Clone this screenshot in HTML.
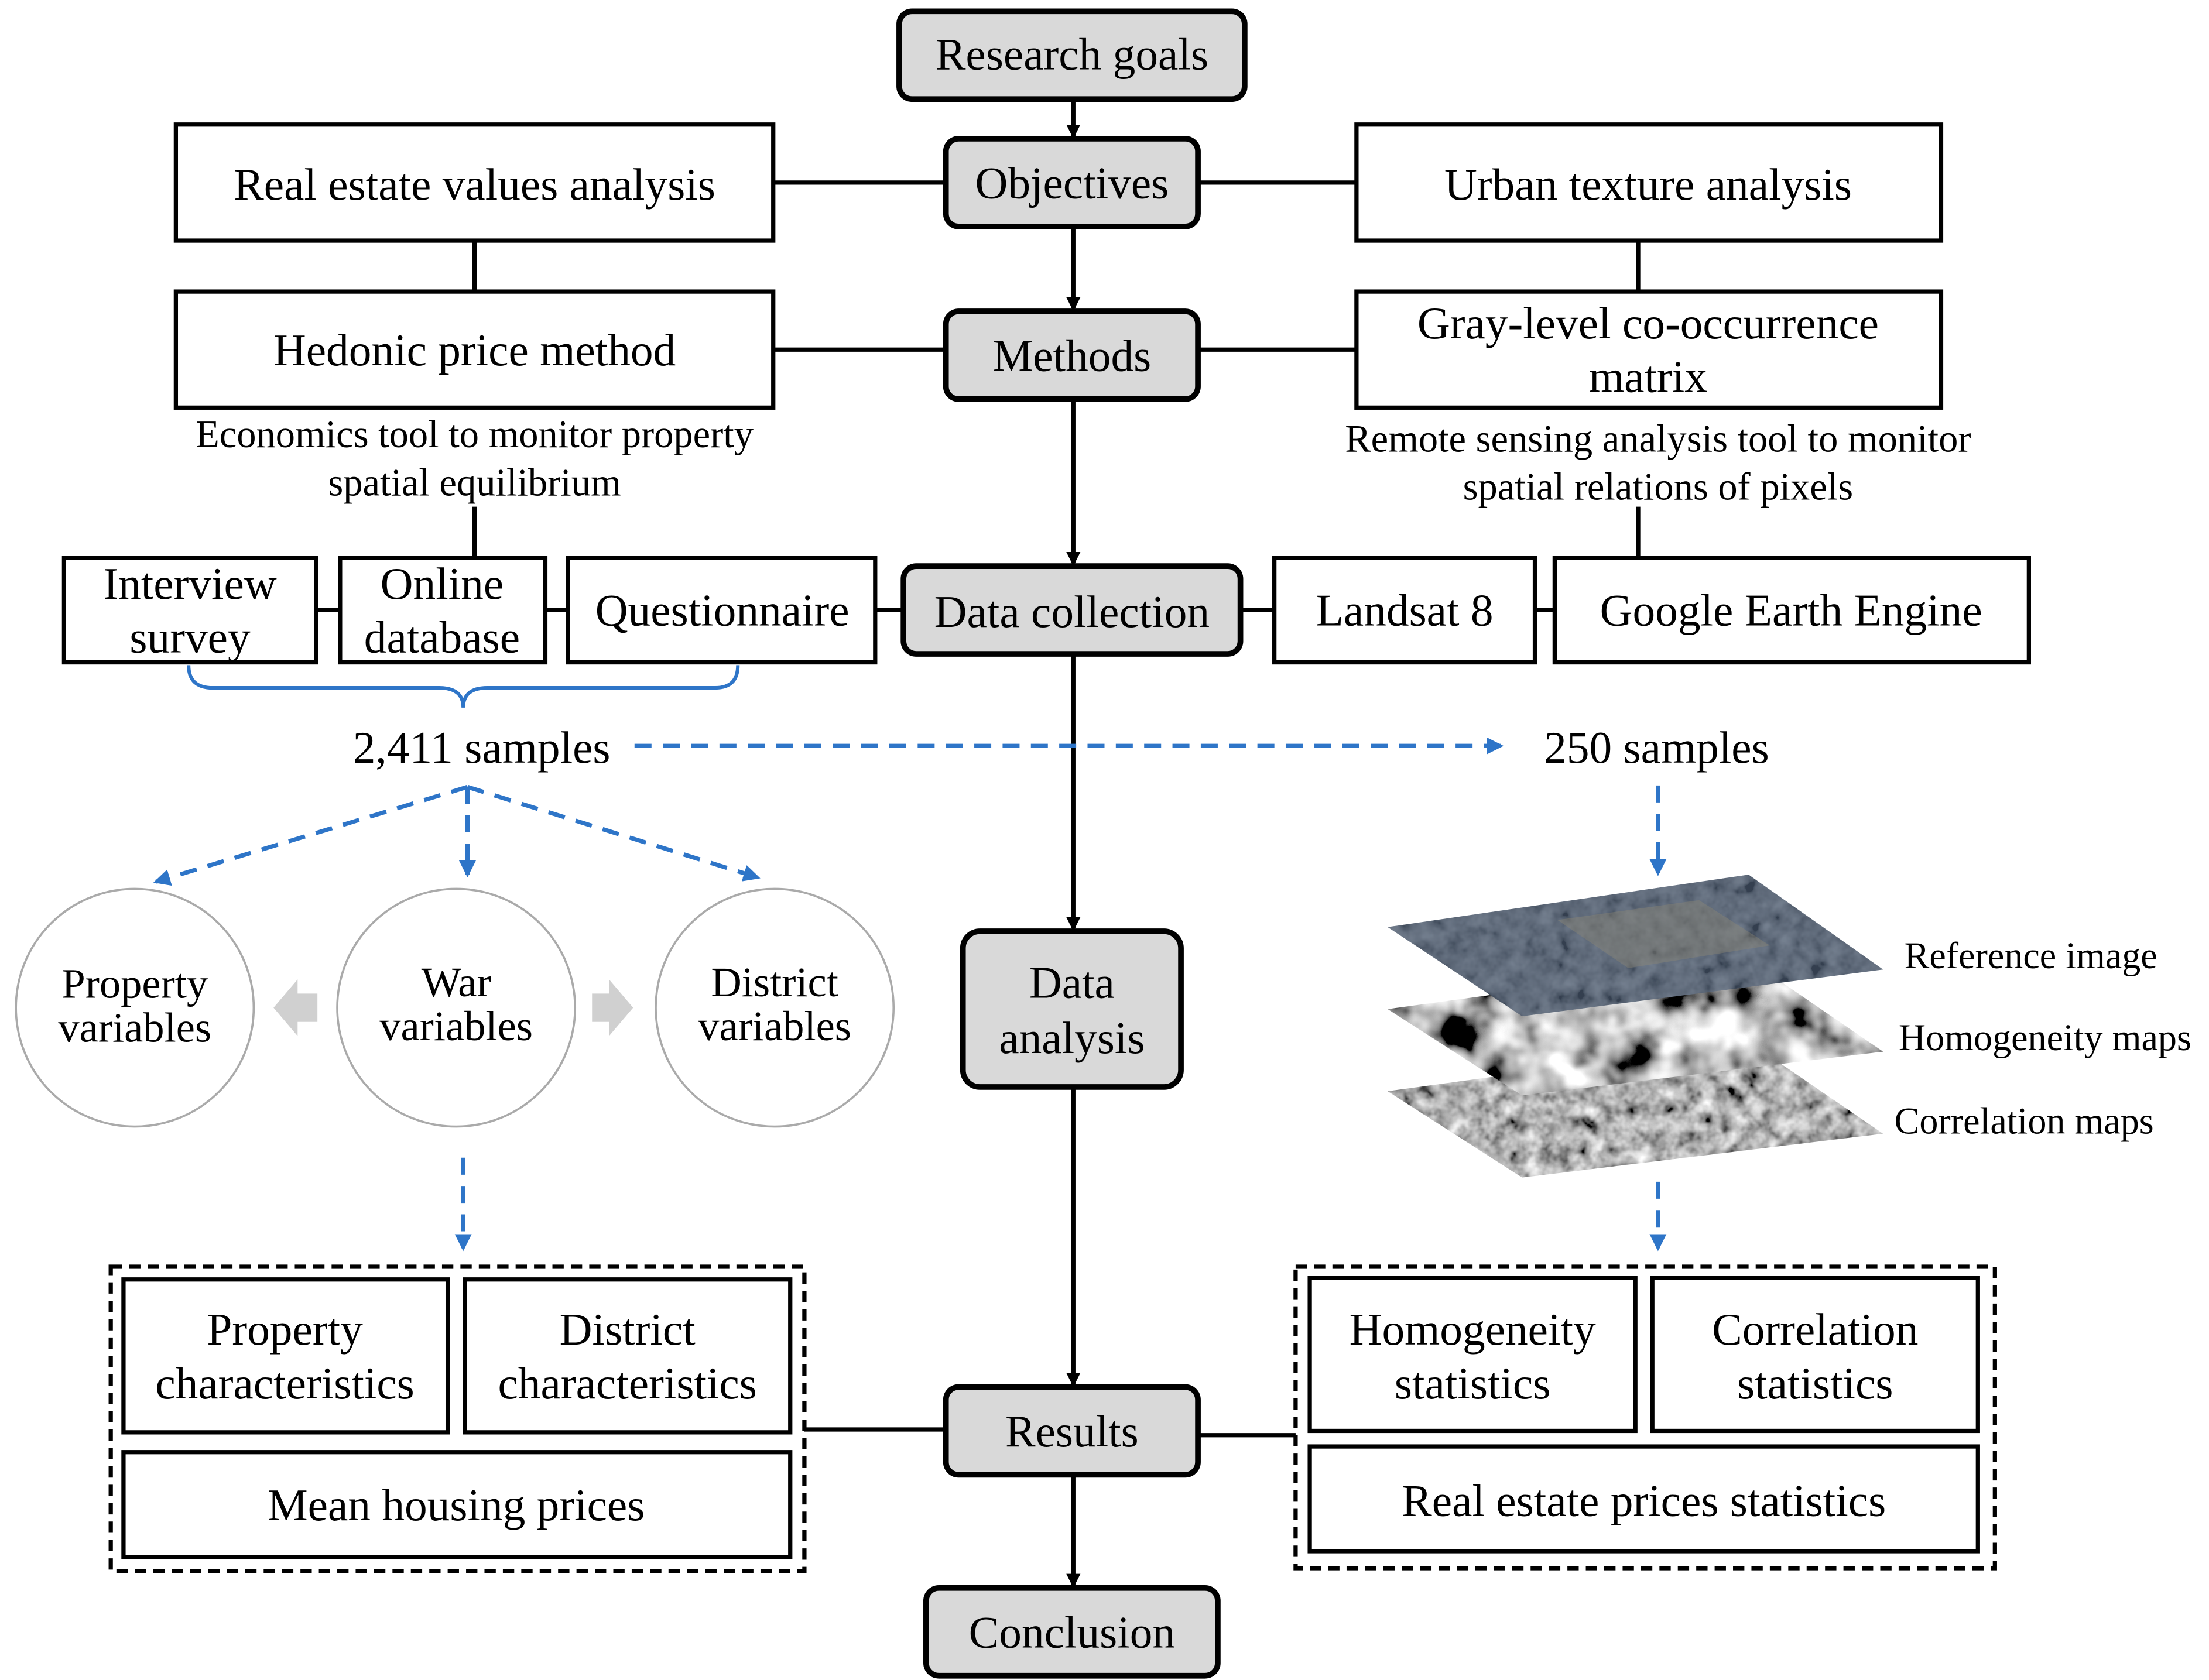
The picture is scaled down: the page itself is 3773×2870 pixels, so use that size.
<!DOCTYPE html>
<html><head><meta charset="utf-8"><style>
html,body{margin:0;padding:0;background:#fff;}
svg{display:block;}
text{font-family:"Liberation Serif",serif;fill:#000;}
</style></head><body>
<svg width="3773" height="2870" viewBox="0 0 1560 1187" xmlns="http://www.w3.org/2000/svg">
<defs>
<marker id="ab" markerWidth="10" markerHeight="10" refX="8" refY="5" orient="auto" markerUnits="userSpaceOnUse"><path d="M0,0 L10,5 L0,10 z" fill="#000"/></marker>
<marker id="au" markerWidth="12" markerHeight="12" refX="10" refY="6" orient="auto" markerUnits="userSpaceOnUse"><path d="M0,0 L12,6 L0,12 z" fill="#2e75c8"/></marker>
<filter id="n1"><feTurbulence type="fractalNoise" baseFrequency="0.035" numOctaves="3" seed="3"/><feColorMatrix type="matrix" values="0.33 0.33 0.33 0 0 0.33 0.33 0.33 0 0 0.33 0.33 0.33 0 0 0 0 0 0 1"/><feComponentTransfer><feFuncR type="linear" slope="4" intercept="-1.5"/><feFuncG type="linear" slope="4" intercept="-1.5"/><feFuncB type="linear" slope="4" intercept="-1.5"/></feComponentTransfer><feComposite in2="SourceGraphic" operator="in"/></filter>
<filter id="n2"><feTurbulence type="fractalNoise" baseFrequency="0.09" numOctaves="3" seed="7"/><feColorMatrix type="matrix" values="0.33 0.33 0.33 0 0 0.33 0.33 0.33 0 0 0.33 0.33 0.33 0 0 0 0 0 0 1"/><feComponentTransfer><feFuncR type="linear" slope="2.5" intercept="-0.8"/><feFuncG type="linear" slope="2.5" intercept="-0.8"/><feFuncB type="linear" slope="2.5" intercept="-0.8"/></feComponentTransfer><feComposite in2="SourceGraphic" operator="in"/></filter>
</defs>

<g stroke="#000" stroke-width="3" fill="none">
<line x1="758" y1="70" x2="758" y2="96" marker-end="url(#ab)"/>
<line x1="758" y1="160" x2="758" y2="218" marker-end="url(#ab)"/>
<line x1="758" y1="282" x2="758" y2="398" marker-end="url(#ab)"/>
<line x1="758" y1="462" x2="758" y2="656" marker-end="url(#ab)"/>
<line x1="758" y1="768" x2="758" y2="978" marker-end="url(#ab)"/>
<line x1="758" y1="1042" x2="758" y2="1120" marker-end="url(#ab)"/>
<line x1="546" y1="129" x2="668" y2="129"/><line x1="846" y1="129" x2="958" y2="129"/>
<line x1="546" y1="247" x2="668" y2="247"/><line x1="846" y1="247" x2="958" y2="247"/>
<line x1="335" y1="170" x2="335" y2="206"/><line x1="1157" y1="170" x2="1157" y2="206"/>
<line x1="335" y1="358" x2="335" y2="394"/><line x1="1157" y1="358" x2="1157" y2="394"/>
<line x1="223" y1="431" x2="240" y2="431"/><line x1="385" y1="431" x2="401" y2="431"/>
<line x1="618" y1="431" x2="638" y2="431"/><line x1="876" y1="431" x2="900" y2="431"/><line x1="1084" y1="431" x2="1098" y2="431"/>
<line x1="568" y1="1010" x2="668" y2="1010"/><line x1="846" y1="1014" x2="915" y2="1014"/>
</g>

<g fill="#d9d9d9" stroke="#000" stroke-width="4">
<rect x="635" y="8" width="244" height="62" rx="9"/>
<rect x="668" y="98" width="178" height="62" rx="9"/>
<rect x="668" y="220" width="178" height="62" rx="9"/>
<rect x="638" y="400" width="238" height="62" rx="9"/>
<rect x="680" y="658" width="154" height="110" rx="12"/>
<rect x="668" y="980" width="178" height="62" rx="9"/>
<rect x="654" y="1122" width="206" height="62" rx="9"/>
</g>
<g fill="#fff" stroke="#000" stroke-width="3">
<rect x="124" y="88" width="422" height="82"/>
<rect x="958" y="88" width="413" height="82"/>
<rect x="124" y="206" width="422" height="82"/>
<rect x="958" y="206" width="413" height="82"/>
<rect x="45" y="394" width="178" height="74"/>
<rect x="240" y="394" width="145" height="74"/>
<rect x="401" y="394" width="217" height="74"/>
<rect x="900" y="394" width="184" height="74"/>
<rect x="1098" y="394" width="335" height="74"/>
<rect x="87" y="904" width="229" height="108"/>
<rect x="328" y="904" width="230" height="108"/>
<rect x="87" y="1026" width="471" height="74"/>
<rect x="925" y="903" width="230" height="108"/>
<rect x="1167" y="903" width="230" height="108"/>
<rect x="925" y="1022" width="472" height="74"/>
</g>
<g fill="none" stroke="#000" stroke-width="3" stroke-dasharray="8,5">
<rect x="78" y="895" width="490" height="215"/>
<rect x="915" y="895" width="494" height="213"/>
</g>

<g stroke="#2e75c8" stroke-width="2.5" fill="none">
<path d="M133,470 Q133,486 150,486 L310,486 Q327,486 327,500 Q327,486 344,486 L505,486 Q521,486 521,470"/>
</g>
<g stroke="#2e75c8" stroke-width="3" fill="none" stroke-dasharray="12,8">
<line x1="448" y1="527" x2="1060" y2="527" marker-end="url(#au)"/>
<line x1="330" y1="556" x2="110" y2="623" marker-end="url(#au)"/>
<line x1="330" y1="556" x2="330" y2="618" marker-end="url(#au)"/>
<line x1="330" y1="556" x2="535" y2="620" marker-end="url(#au)"/>
<line x1="327" y1="818" x2="327" y2="882" marker-end="url(#au)"/>
<line x1="1171" y1="555" x2="1171" y2="617" marker-end="url(#au)"/>
<line x1="1171" y1="835" x2="1171" y2="882" marker-end="url(#au)"/>
</g>

<g fill="#fff" stroke="#aaa" stroke-width="1.5">
<circle cx="95" cy="712" r="84"/><circle cx="322" cy="712" r="84"/><circle cx="547" cy="712" r="84"/>
</g>
<g fill="#d0d0d0">
<path d="M193,712 L210,692 L210,702 L224,702 L224,722 L210,722 L210,732 z"/>
<path d="M447,712 L430,692 L430,702 L418,702 L418,722 L430,722 L430,732 z"/>
</g>

<polygon points="980,771 1235,736 1330,801 1075,832" fill="#999" filter="url(#n2)"/>
<polygon points="980,713 1235,678 1330,743 1075,774" fill="#888" filter="url(#n1)"/>
<polygon points="980,655 1235,618 1330,685 1075,718" fill="#46556a"/>
<polygon points="980,655 1235,618 1330,685 1075,718" fill="#888" filter="url(#n2)" opacity="0.25"/>
<polygon points="1100,650 1200,636 1250,668 1150,684" fill="#8a8575" opacity="0.45"/>

<g font-size="32" text-anchor="middle">
<text x="757" y="49">Research goals</text>
<text x="757" y="140">Objectives</text>
<text x="757" y="262">Methods</text>
<text x="757" y="443">Data collection</text>
<text x="757" y="705">Data</text><text x="757" y="744">analysis</text>
<text x="757" y="1022">Results</text>
<text x="757" y="1164">Conclusion</text>
<text x="335" y="141">Real estate values analysis</text>
<text x="1164" y="141">Urban texture analysis</text>
<text x="335" y="258">Hedonic price method</text>
<text x="1164" y="239">Gray-level co-occurrence</text><text x="1164" y="277">matrix</text>
<text x="134" y="423">Interview</text><text x="134" y="461">survey</text>
<text x="312" y="423">Online</text><text x="312" y="461">database</text>
<text x="510" y="442">Questionnaire</text>
<text x="992" y="442">Landsat 8</text>
<text x="1265" y="442">Google Earth Engine</text>
<text x="340" y="539">2,411 samples</text>
<text x="1170" y="539">250 samples</text>
<text x="201" y="950">Property</text><text x="201" y="988">characteristics</text>
<text x="443" y="950">District</text><text x="443" y="988">characteristics</text>
<text x="322" y="1074">Mean housing prices</text>
<text x="1040" y="950">Homogeneity</text><text x="1040" y="988">statistics</text>
<text x="1282" y="950">Correlation</text><text x="1282" y="988">statistics</text>
<text x="1161" y="1071">Real estate prices statistics</text>
</g>
<g font-size="30" text-anchor="middle">
<text x="95" y="705">Property</text><text x="95" y="736">variables</text>
<text x="322" y="704">War</text><text x="322" y="735">variables</text>
<text x="547" y="704">District</text><text x="547" y="735">variables</text>
</g>
<g font-size="27.5" text-anchor="middle">
<text x="335" y="316">Economics tool to monitor property</text><text x="335" y="350">spatial equilibrium</text>
<text x="1171" y="319">Remote sensing analysis tool to monitor</text><text x="1171" y="353">spatial relations of pixels</text>
</g>
<g font-size="26.5">
<text x="1345" y="684">Reference image</text>
<text x="1341" y="742">Homogeneity maps</text>
<text x="1338" y="801">Correlation maps</text>
</g>
</svg>
</body></html>
